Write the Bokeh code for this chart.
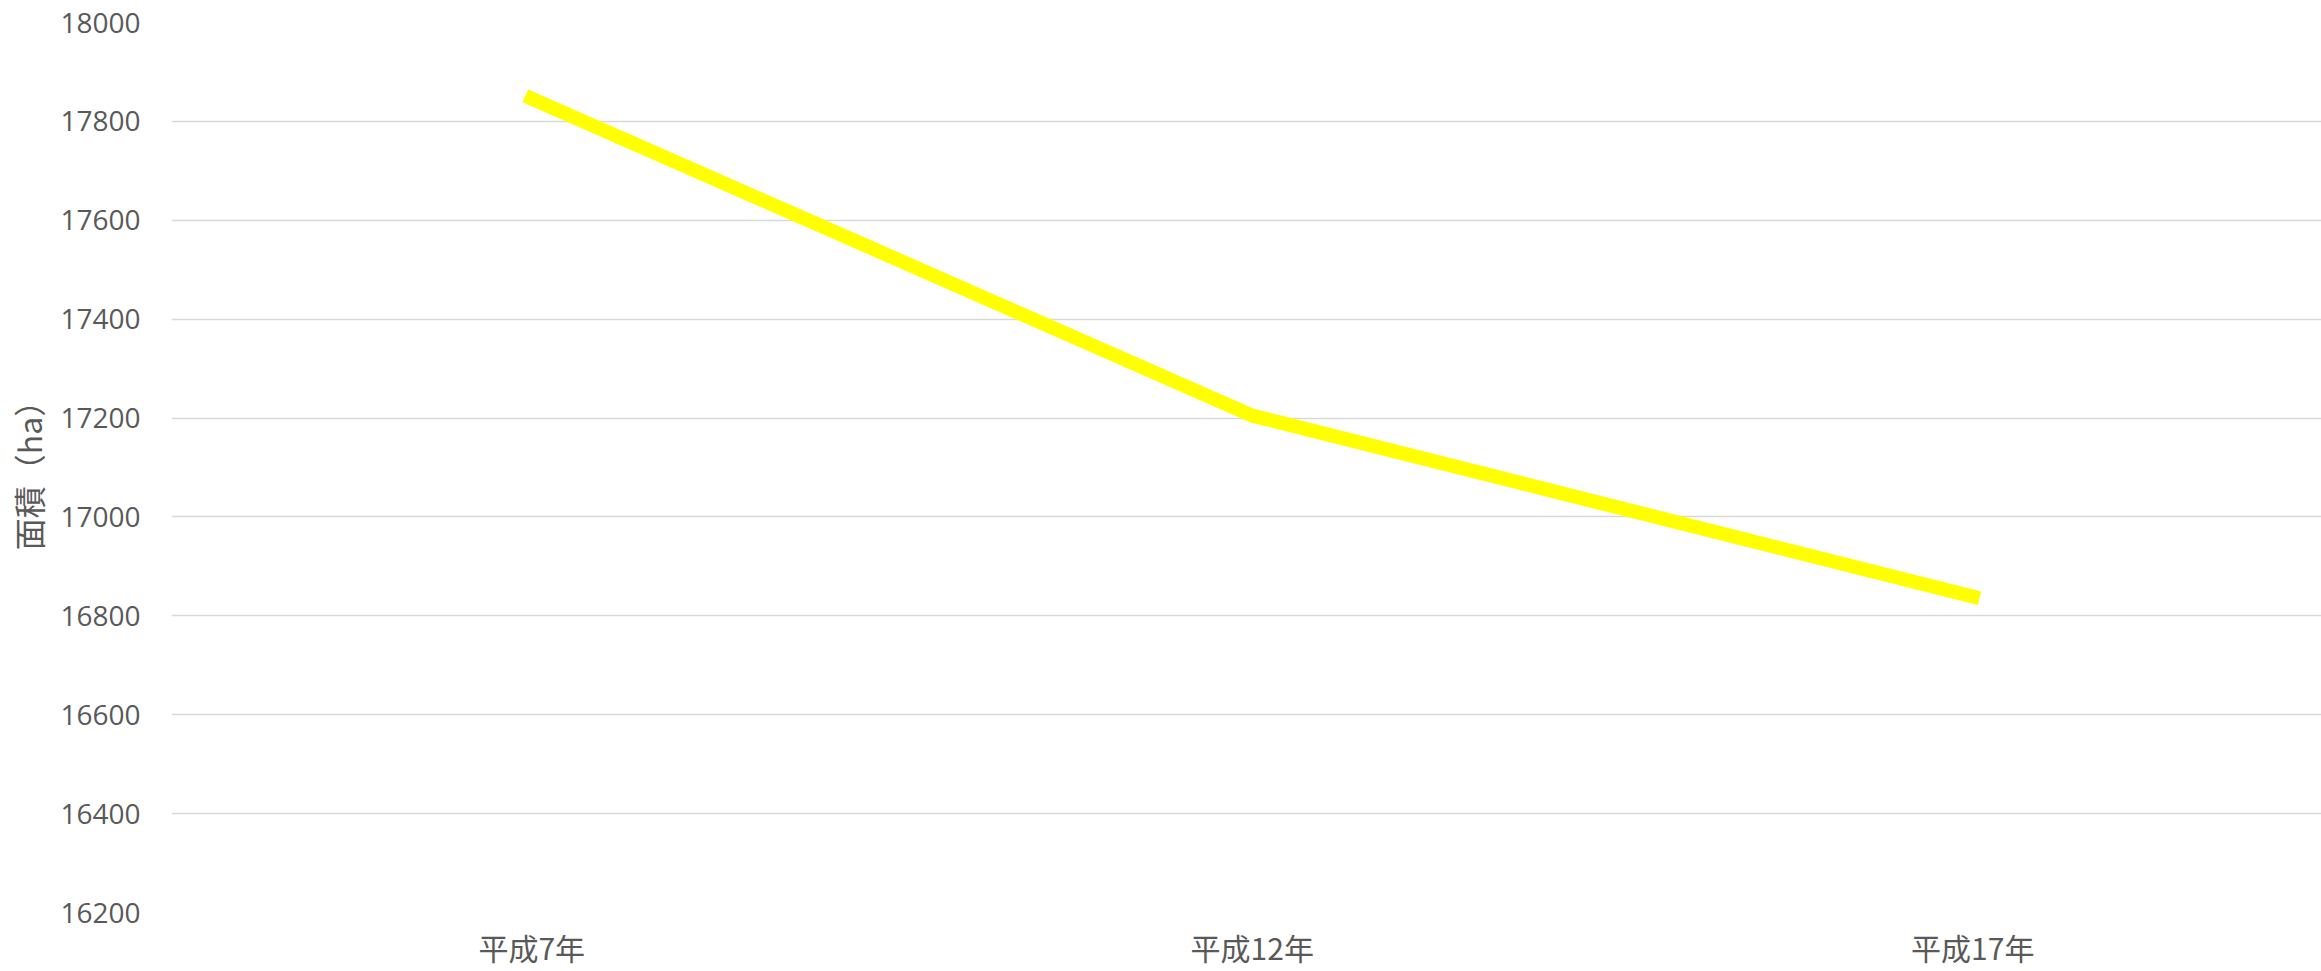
from bokeh.plotting import figure
from bokeh.models import Range1d, FixedTicker
from bokeh.embed import file_html
from bokeh.resources import INLINE

# Data
years = ["平成7年", "平成12年", "平成17年"]
area = [17846, 17205, 16839]
y_ticks = [16200, 16400, 16600, 16800, 17000, 17200, 17400, 17600, 17800, 18000]
y_title = "面積（ha）"

xpos = list(range(len(years)))

p = figure(width=2321, height=971, output_backend="svg", toolbar_location=None,
           x_range=Range1d(-0.5, 2.484), y_range=Range1d(16200, 18000),
           min_border_left=171, min_border_right=0, min_border_top=22,
           min_border_bottom=58)
p.outline_line_color = None
p.background_fill_color = "white"
p.border_fill_color = "white"

p.line(xpos, area, line_color="#FFFF00", line_width=14, line_cap="square",
       line_join="miter")

# x axis
p.xaxis.ticker = FixedTicker(ticks=xpos)
p.xaxis.major_label_overrides = {i: years[i] for i in xpos}
p.xaxis.axis_line_color = None
p.xaxis.major_tick_line_color = None
p.xaxis.minor_tick_line_color = None
p.xaxis.major_tick_out = 0
p.xaxis.major_tick_in = 0
p.xaxis.major_label_standoff = 12
p.xaxis.major_label_text_font = "Noto Sans CJK JP"
p.xaxis.major_label_text_font_size = "30px"
p.xaxis.major_label_text_color = "#595959"

# y axis
p.yaxis.ticker = FixedTicker(ticks=y_ticks)
p.yaxis.axis_line_color = None
p.yaxis.major_tick_line_color = None
p.yaxis.minor_tick_line_color = None
p.yaxis.major_tick_out = 0
p.yaxis.major_tick_in = 0
p.yaxis.major_label_standoff = 31
p.yaxis.major_label_text_font = "Open Sans"
p.yaxis.major_label_text_font_size = "28px"
p.yaxis.major_label_text_color = "#595959"
p.yaxis.axis_label = y_title
p.yaxis.axis_label_text_font = "Noto Sans CJK JP"
p.yaxis.axis_label_text_font_size = "32px"
p.yaxis.axis_label_text_font_style = "normal"
p.yaxis.axis_label_text_color = "#595959"
p.yaxis.axis_label_standoff = 6

p.xgrid.grid_line_color = None
p.ygrid.grid_line_color = "#D9D9D9"
p.ygrid.grid_line_width = 1.5

open("out.html", "w").write(file_html(p, INLINE))
